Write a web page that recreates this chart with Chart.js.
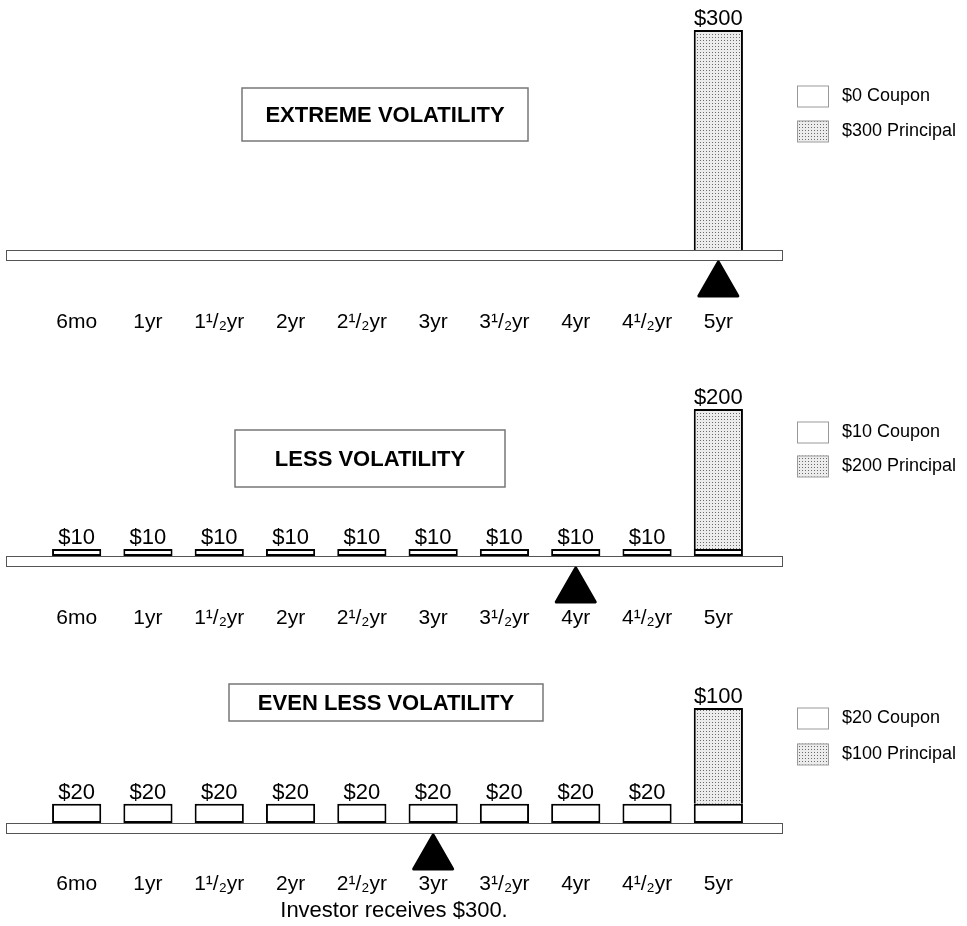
<!DOCTYPE html>
<html>
<head>
<style>
  body { margin: 0; background: #fff; }
  canvas { position: absolute; left: 0; }
</style>
</head>
<body>
<script src="https://cdn.jsdelivr.net/npm/chart.js@4/dist/chart.umd.min.js"></script>
<canvas id="p1" width="967" height="340" style="top:0px"></canvas>
<canvas id="p2" width="967" height="300" style="top:340px"></canvas>
<canvas id="p3" width="967" height="286" style="top:640px"></canvas>
<script>
// data
var periods = ['6mo', '1yr', '1\u00B9/\u2082yr', '2yr', '2\u00B9/\u2082yr', '3yr', '3\u00B9/\u2082yr', '4yr', '4\u00B9/\u2082yr', '5yr'];
var coupon1 = [0, 0, 0, 0, 0, 0, 0, 0, 0, 0];
var principal1 = [0, 0, 0, 0, 0, 0, 0, 0, 0, 300];
var coupon2 = [10, 10, 10, 10, 10, 10, 10, 10, 10, 10];
var principal2 = [0, 0, 0, 0, 0, 0, 0, 0, 0, 200];
var coupon3 = [20, 20, 20, 20, 20, 20, 20, 20, 20, 20];
var principal3 = [0, 0, 0, 0, 0, 0, 0, 0, 0, 100];
var titles = ['EXTREME VOLATILITY', 'LESS VOLATILITY', 'EVEN LESS VOLATILITY'];
var fulcrums = ['5yr', '4yr', '3yr'];
var couponNames = ['$0 Coupon', '$10 Coupon', '$20 Coupon'];
var principalNames = ['$300 Principal', '$200 Principal', '$100 Principal'];
var footnote = 'Investor receives $300.';

var FONT = '"Liberation Sans", Arial, Helvetica, sans-serif';

// stipple fill for the principal
function stipple(ctx) {
    var c = document.createElement('canvas');
    c.width = 3; c.height = 3;
    var g = c.getContext('2d');
    g.fillStyle = '#ececec';
    g.fillRect(0, 0, 3, 3);
    g.fillStyle = '#6a6a6a';
    g.fillRect(1, 1, 1, 1);
    return ctx.createPattern(c, 'repeat');
}

// panel geometry (pixels inside each canvas)
var layouts = [
    { top: 30, axisH: 90, tickGap: 60, box: [242, 88, 286, 53], legendY: [96, 131] },
    { top: 69, axisH: 84, tickGap: 50, box: [235, 90, 270, 57], legendY: [92, 126] },
    { top: 68, axisH: 103, tickGap: 49, box: [229, 44, 314, 37], legendY: [78, 114], note: true }
];

var seesaw = {
    id: 'seesaw',
    beforeDatasetsDraw: function(chart, args, opts) {
        var a = chart.chartArea, ctx = chart.ctx;
        ctx.save();
        // beam
        ctx.fillStyle = '#fff';
        ctx.fillRect(6, a.bottom, 776, 10);
        ctx.strokeStyle = '#555';
        ctx.lineWidth = 1;
        ctx.strokeRect(6.5, a.bottom + 0.5, 776, 10);
        // fulcrum
        var x = chart.scales.x.getPixelForValue(periods.indexOf(opts.fulcrum));
        var y0 = a.bottom + 11;
        ctx.fillStyle = '#000';
        ctx.strokeStyle = '#000';
        ctx.lineWidth = 3;
        ctx.lineJoin = 'round';
        ctx.beginPath();
        ctx.moveTo(x, y0 + 1);
        ctx.lineTo(x + 19.5, y0 + 35);
        ctx.lineTo(x - 19.5, y0 + 35);
        ctx.closePath();
        ctx.fill();
        ctx.stroke();
        ctx.restore();
    },
    afterDatasetsDraw: function(chart, args, opts) {
        var ctx = chart.ctx;
        var L = opts.layout;
        var cp = chart.data.datasets[0], pr = chart.data.datasets[1];
        var meta = chart.getDatasetMeta(1);
        ctx.save();
        // value labels
        ctx.fillStyle = '#000';
        ctx.font = '22px ' + FONT;
        ctx.textAlign = 'center';
        ctx.textBaseline = 'alphabetic';
        for (var i = 0; i < periods.length; i++) {
            var v = pr.data[i] > 0 ? pr.data[i] : cp.data[i];
            if (!v) continue;
            var el = meta.data[i];
            ctx.fillText('$' + v, el.x, el.y - 5);
        }
        // title box
        var b = L.box;
        ctx.strokeStyle = '#777';
        ctx.lineWidth = 1.5;
        ctx.strokeRect(b[0], b[1], b[2], b[3]);
        ctx.font = 'bold 22px ' + FONT;
        ctx.textBaseline = 'middle';
        ctx.fillText(opts.title, b[0] + b[2] / 2, b[1] + b[3] / 2 + 1);
        // legend
        var sx = 797, sw = 31, sh = 21;
        ctx.lineWidth = 1;
        ctx.strokeStyle = '#999';
        ctx.fillStyle = '#fff';
        ctx.fillRect(sx, L.legendY[0] - sh / 2, sw, sh);
        ctx.strokeRect(sx + 0.5, L.legendY[0] - sh / 2 + 0.5, sw, sh);
        ctx.fillStyle = pr.backgroundColor;
        ctx.fillRect(sx, L.legendY[1] - sh / 2, sw, sh);
        ctx.strokeRect(sx + 0.5, L.legendY[1] - sh / 2 + 0.5, sw, sh);
        ctx.fillStyle = '#000';
        ctx.font = '18px ' + FONT;
        ctx.textAlign = 'left';
        ctx.fillText(cp.label, 842, L.legendY[0]);
        ctx.fillText(pr.label, 842, L.legendY[1]);
        if (L.note) {
            ctx.font = '22px ' + FONT;
            ctx.textAlign = 'center';
            ctx.fillText(footnote, 394, chart.height - 15);
        }
        ctx.restore();
    }
};

function makePanel(id, k, coupon, principal) {
    var ctx = document.getElementById(id).getContext('2d');
    var L = layouts[k];
    return new Chart(ctx, {
        type: 'bar',
        data: {
            labels: periods,
            datasets: [{
                label: couponNames[k],
                data: coupon,
                backgroundColor: '#fff',
                borderColor: '#000',
                borderWidth: { top: 2, left: 2, right: 2, bottom: 2 },
                borderSkipped: false
            }, {
                label: principalNames[k],
                data: principal,
                backgroundColor: stipple(ctx),
                borderColor: '#000',
                borderWidth: { top: 2, left: 2, right: 2, bottom: 0 },
                borderSkipped: false
            }]
        },
        options: {
            responsive: false,
            animation: false,
            events: [],
            layout: { padding: { top: L.top, left: 41, right: 213, bottom: 0 } },
            datasets: { bar: { categoryPercentage: 1, barPercentage: 0.69 } },
            scales: {
                x: {
                    stacked: true,
                    grid: { display: false, drawTicks: true, tickLength: L.tickGap },
                    border: { display: false },
                    ticks: { color: '#000', padding: 0, maxRotation: 0, autoSkip: false, font: { size: 21, family: FONT } },
                    afterFit: function(s) { s.height = L.axisH; }
                },
                y: {
                    stacked: true,
                    display: false,
                    min: 0,
                    max: Math.max.apply(null, coupon.map(function(c, i) { return c + principal[i]; }))
                }
            },
            plugins: {
                legend: { display: false },
                tooltip: { enabled: false },
                seesaw: { fulcrum: fulcrums[k], title: titles[k], layout: L }
            }
        },
        plugins: [seesaw]
    });
}

makePanel('p1', 0, coupon1, principal1);
makePanel('p2', 1, coupon2, principal2);
makePanel('p3', 2, coupon3, principal3);
</script>
</body>
</html>
